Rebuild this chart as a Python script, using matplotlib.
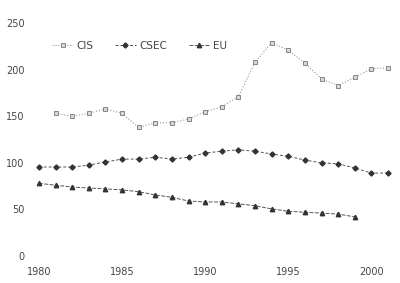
import matplotlib
matplotlib.use('Agg')
import matplotlib.pyplot as plt

years = list(range(1980, 2002))

# CIS starts in 1981
cis_years = list(range(1981, 2002))
cis = [153, 150, 153, 158, 153, 138, 143, 143, 147, 155, 160, 171, 208, 229,
       221, 207, 190, 183, 192, 201, 202]

csec = [95.5, 95.5, 95.5, 97.5, 101, 104, 104, 106, 104, 106, 110.5, 112.5,
        114, 112.5, 109.5, 107, 103, 100, 99, 94.5, 89, 89]

# EU ends in 1999
eu_years = list(range(1980, 2000))
eu = [78, 76, 74, 73, 72, 71, 69, 65.5, 63, 59, 58, 58, 56, 54, 50.5, 48,
      47, 46, 45, 42]

xticks = [1980, 1985, 1990, 1995, 2000]
yticks = [0, 50, 100, 150, 200, 250]

fig = plt.figure(figsize=(4, 2.83), dpi=100)
ax = fig.add_axes([0.075, 0.0954, 0.9125, 0.823])

ax.plot(cis_years, cis, color='#9a9a9a', linestyle=':', linewidth=0.8,
        marker='s', markersize=2.8, markerfacecolor='#d8d8d8',
        markeredgecolor='#777777', markeredgewidth=0.6, label='CIS')
ax.plot(years, csec, color='#555555', linestyle='--', dashes=(3, 2),
        linewidth=0.7, marker='D', markersize=2.6,
        markerfacecolor='#333333', markeredgecolor='#333333', label='CSEC')
ax.plot(eu_years, eu, color='#555555', linestyle='--', dashes=(4, 1.5),
        linewidth=0.7, marker='^', markersize=3.2,
        markerfacecolor='#333333', markeredgecolor='#333333', label='EU')

ax.set_xlim(1979.46, 2001.42)
ax.set_ylim(0, 250)
ax.set_xticks(xticks)
ax.set_yticks(yticks)
ax.tick_params(length=0, labelsize=7, labelcolor='#444444')
ax.tick_params(axis='x', pad=8)
ax.tick_params(axis='y', pad=4)
for s in ax.spines.values():
    s.set_visible(False)

ax.legend(loc='upper left', bbox_to_anchor=(0.035, 0.965), ncol=3, frameon=False,
          fontsize=7.5, handlelength=2.0, columnspacing=2.1, handletextpad=0.3,
          labelcolor='#444444')

fig.savefig('out.png', dpi=100)
